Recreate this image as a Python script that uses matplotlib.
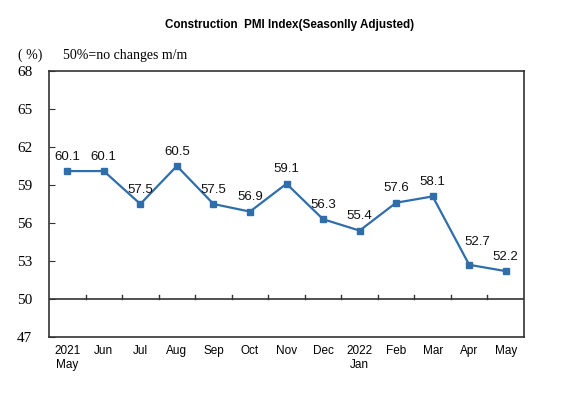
import numpy as np
import matplotlib
matplotlib.use('Agg')
from matplotlib import pyplot as plt

# construction PMI, seasonally adjusted
months = ['2021\nMay', 'Jun', 'Jul', 'Aug', 'Sep', 'Oct', 'Nov', 'Dec',
          '2022\nJan', 'Feb', 'Mar', 'Apr', 'May']
pmi = [60.1, 60.1, 57.5, 60.5, 57.5, 56.9, 59.1, 56.3, 55.4, 57.6, 58.1, 52.7, 52.2]
yticks = [47, 50, 53, 56, 59, 62, 65, 68]

W, H = 565, 393
fig = plt.figure(figsize=(W / 100, H / 100), dpi=100)
ax = fig.add_axes([49 / W, 1 - 337 / H, (524 - 49) / W, (337 - 71) / H])

x = np.arange(len(pmi))
line_color = '#2F6EAA'
ax.plot(x, pmi, color=line_color, lw=1.6, marker='s', ms=4,
        markerfacecolor=line_color, markeredgecolor=line_color)

for i, v in enumerate(pmi):
    dx, dy = 0, 6
    if i == 11:
        dx, dy = 6, 12
    ax.annotate('%.1f' % v, (x[i], v), xytext=(dx, dy), textcoords='offset points',
                ha='center', va='bottom', fontsize=9.5, family='Liberation Sans',
                color='#111111')

ax.set_xlim(-0.5, len(pmi) - 0.5)
ax.set_ylim(47, 68)
ax.set_yticks(yticks)
ax.set_yticklabels([str(t) for t in yticks], family='Liberation Serif', fontsize=11)
ax.tick_params(axis='y', direction='in', length=4, pad=12, color='#333333')

ax.set_xticks(x)
ax.set_xticklabels(months, family='Liberation Sans', fontsize=8.5)
ax.tick_params(axis='x', length=0, pad=6)

# 50 reference line with ticks at category boundaries
ax.axhline(50, color='#333333', lw=1.2)
for b in np.arange(0.5, len(pmi) - 0.5, 1.0):
    ax.plot([b, b], [50, 50.3], color='#333333', lw=1)

for s in ax.spines.values():
    s.set_color('#333333')
    s.set_linewidth(1.2)

fig.text(290 / W, 1 - 25 / H, 'Construction  PMI Index(Seasonlly Adjusted)',
         ha='center', va='center', fontsize=8.4, fontweight='bold',
         family='Liberation Sans')
fig.text(18 / W, 1 - 55 / H, '( %)', ha='left', va='center', fontsize=10,
         family='Liberation Serif')
fig.text(63 / W, 1 - 55 / H, '50%=no changes m/m', ha='left', va='center',
         fontsize=10, family='Liberation Serif')

fig.savefig('out.png', dpi=100)
